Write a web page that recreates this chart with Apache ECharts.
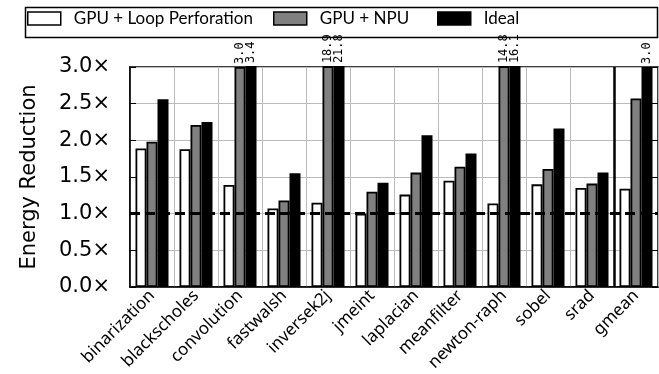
<!DOCTYPE html>
<html><head><meta charset="utf-8">
<script src="https://cdn.jsdelivr.net/npm/echarts@6/dist/echarts.min.js"></script>
<style>html,body{margin:0;padding:0;background:#fff}#c{width:659px;height:374px}</style>
</head><body><div id="c"></div>
<script>
const categories = ['binarization','blackscholes','convolution','fastwalsh','inversek2j','jmeint','laplacian','meanfilter','newton-raph','sobel','srad','gmean'];
const loopPerforation = [1.89,1.88,1.39,1.07,1.15,1.00,1.26,1.45,1.14,1.40,1.35,1.34];
const gpuNpu = [1.98,2.21,3.0,1.18,18.9,1.30,1.56,1.64,14.8,1.61,1.41,2.57];
const ideal = [2.56,2.25,3.4,1.55,21.8,1.42,2.07,1.82,16.1,2.16,1.56,3.0];
const yTicks = [0,0.5,1,1.5,2,2.5,3];
const seriesNames = ['GPU + Loop Perforation','GPU + NPU','Ideal'];
const seriesColors = ['#ffffff','#808080','#000000'];
const baseline = 1.0;
const geoMeanBoundary = 11;

const chart = echarts.init(document.getElementById('c'), null, {renderer:'canvas'});
const FONT = 'DejaVu Sans';
function withLabels(arr){
  return arr.map(v => v >= 3 ? {value:v, label:{show:true}} : v);
}
function barSeries(i, arr){
  return {
    name: seriesNames[i], type:'bar', data: withLabels(arr), clip:true,
    barGap:'0%', barCategoryGap:'25%',
    itemStyle:{color:seriesColors[i], borderColor:'#000', borderWidth:1.8},
    label:{show:false, position:'top', rotate:90, align:'left', verticalAlign:'middle', distance:3,
      fontFamily:'DejaVu Sans Mono', fontSize:12, color:'#000',
      formatter: p => p.value.toFixed(1)},
    emphasis:{disabled:true}, animation:false
  };
}
const series = [barSeries(0, loopPerforation), barSeries(1, gpuNpu), barSeries(2, ideal)];
series[2].markLine = {
  silent:true, symbol:'none', label:{show:false}, animation:false,
  lineStyle:{color:'#000', width:3, type:[10,5]},
  data:[{yAxis: baseline}]
};
series.push({
  type:'line', xAxisIndex:1, yAxisIndex:0, data:[], silent:true,
  markLine:{silent:true, symbol:'none', label:{show:false}, animation:false,
    lineStyle:{color:'#000', width:2.5, type:'solid'}, data:[{xAxis: geoMeanBoundary}]}
});
function legendAt(i, left){
  return {data:[{name:seriesNames[i], icon:'rect'}], left:left, top:10, itemWidth:33, itemHeight:13, itemGap:0,
    padding:0, selectedMode:false,
    itemStyle:{borderColor:'#000', borderWidth:1.5},
    textStyle:{fontFamily:'Lato', fontSize:17, color:'#000', padding:[0,0,0,8]}};
}
chart.setOption({
  animation:false,
  graphic:[{type:'rect', left:23, top:5, shape:{width:632, height:30}, style:{fill:'none', stroke:'#000', lineWidth:1.5}, silent:true}],
  legend:[legendAt(0,27), legendAt(1,273), legendAt(2,437)],
  grid:{left:130, right:1, top:67, bottom:87, show:true, borderColor:'#000', borderWidth:1.5, containLabel:false},
  xAxis:[{type:'category', data:categories, boundaryGap:true,
    axisLine:{show:true, lineStyle:{color:'#000', width:1.5}}, axisTick:{show:false},
    axisLabel:{rotate:45, fontFamily:'Noto Sans', fontSize:17, color:'#000', margin:6, interval:0},
    splitLine:{show:true, interval:0, lineStyle:{color:'#bbbbbb', width:1}}},
    {type:'value', min:0, max:categories.length, show:false, splitLine:{show:false}}],
  yAxis:[{type:'value', min:yTicks[0], max:yTicks[yTicks.length-1], interval:0.5,
    name:'Energy Reduction', nameLocation:'middle', nameGap:90,
    nameTextStyle:{fontFamily:FONT, fontSize:21, color:'#000'},
    axisLine:{show:true, lineStyle:{color:'#000', width:1.5}},
    axisTick:{show:true, inside:true, length:6, lineStyle:{color:'#000', width:1}},
    axisLabel:{fontFamily:FONT, fontSize:21, color:'#000', margin:20, formatter: v => v.toFixed(1)+'×'},
    splitLine:{show:true, lineStyle:{color:'#bbbbbb', width:1}}},
    {type:'value', min:yTicks[0], max:yTicks[yTicks.length-1], interval:0.5, position:'right',
    axisLine:{show:false}, axisTick:{show:true, inside:true, length:6, lineStyle:{color:'#000', width:1}},
    axisLabel:{show:false}, splitLine:{show:false}}],
  series: series
});
</script></body></html>
